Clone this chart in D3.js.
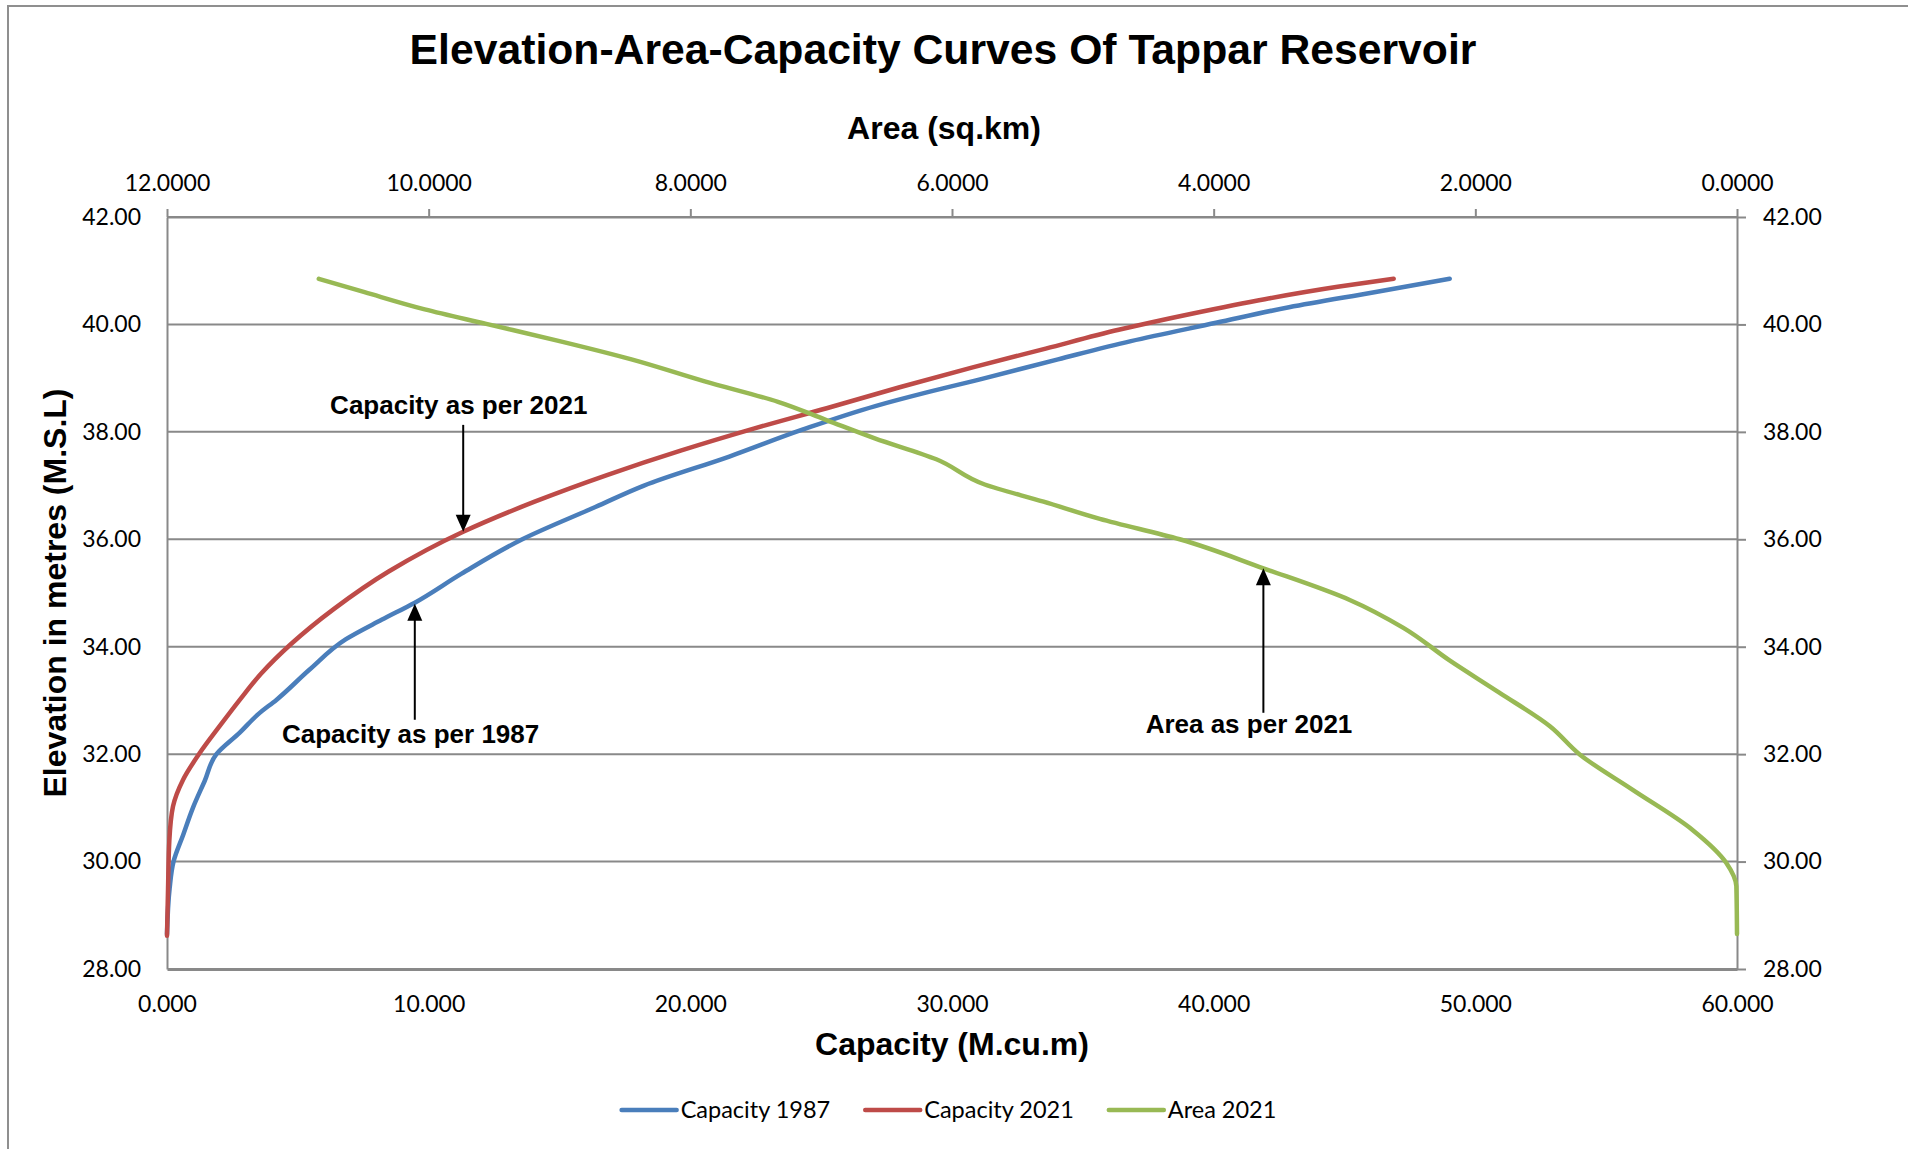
<!DOCTYPE html>
<html>
<head>
<meta charset="utf-8">
<script src="https://cdn.jsdelivr.net/npm/d3@7"></script>
<style>
  body { margin: 0; background: #fff; }
  .tick text, .legend text { font-family: Lato, "Open Sans", sans-serif; font-size: 23px; fill: #000; }
  .legend text { font-size: 23.5px; }
  .bold { font-family: "Liberation Sans", Arial, sans-serif; font-weight: bold; fill: #000; }
</style>
</head>
<body>
<svg id="chart" width="1908" height="1149"></svg>
<script>
// axis ticks
const elevTicks = [28, 30, 32, 34, 36, 38, 40, 42];
const capacityTicks = [0, 10, 20, 30, 40, 50, 60];
const areaTicks = [12, 10, 8, 6, 4, 2, 0];

// [capacity M.cu.m, elevation m]
const capacity1987 = [
  [0, 28.65], [0.1, 29.5], [0.25, 30.0], [0.62, 30.5], [0.99, 31.0], [1.44, 31.5],
  [1.89, 32.0], [2.78, 32.4], [3.5, 32.75], [4.18, 33.01], [5.44, 33.57], [6.84, 34.14],
  [8.2, 34.5], [9.47, 34.82], [11.26, 35.36], [13.58, 36.0], [16.37, 36.6], [18.23, 37.0],
  [21.49, 37.54], [24.28, 38.04], [27.07, 38.48], [29.0, 38.73], [31.26, 39.0], [34.05, 39.35],
  [36.84, 39.69], [40.09, 40.03], [42.88, 40.32], [46.14, 40.6], [49.02, 40.85]
];
const capacity2021 = [
  [0, 28.62], [0.04, 29.5], [0.09, 30.4], [0.23, 31.03], [0.61, 31.52], [1.25, 32.02],
  [2.01, 32.52], [2.78, 33.01], [3.6, 33.5], [4.74, 34.05], [6.37, 34.7], [8.47, 35.4],
  [11.32, 36.14], [14.05, 36.7], [16.84, 37.2], [19.63, 37.65], [22.42, 38.06],
  [25.21, 38.44], [28.0, 38.83], [30.79, 39.2], [33.58, 39.55], [36.37, 39.9],
  [39.16, 40.2], [41.95, 40.47], [44.74, 40.7], [46.88, 40.85]
];
// [area sq.km, elevation m]
const area2021 = [
  [0, 28.65], [0.005, 29.54], [0.08, 29.97], [0.34, 30.59], [0.8, 31.34], [1.2, 31.99],
  [1.43, 32.52], [1.82, 33.15], [2.2, 33.75], [2.55, 34.35], [2.96, 34.87], [3.62, 35.46],
  [4.26, 36.0], [4.87, 36.38], [5.3, 36.7], [5.75, 37.02], [6.12, 37.49], [6.59, 37.88],
  [6.96, 38.22], [7.33, 38.56], [7.89, 38.94], [8.45, 39.35], [9.0, 39.69], [9.56, 40.01],
  [10.03, 40.28], [10.49, 40.6], [10.84, 40.85]
];

const seriesNames = ['Capacity 1987', 'Capacity 2021', 'Area 2021'];
const seriesColors = ['#4a7ebb', '#be4b48', '#98b954'];

// callouts: x on the capacity or area axis, tip / tail / label elevations
const notes = [
  { text: 'Capacity as per 2021', axis: 'cap', x: 11.32, textX: 11.15, tip: 36.14, tail: 38.13, label: 38.33 },
  { text: 'Capacity as per 1987', axis: 'cap', x: 9.47, textX: 9.31, tip: 34.8, tail: 32.64, label: 32.2 },
  { text: 'Area as per 2021', axis: 'area', x: 3.62, textX: 3.73, tip: 35.46, tail: 32.77, label: 32.4 }
];

const W = 1908, H = 1149;
const margin = { left: 167, right: 171, top: 217, bottom: 180 };
const width = W - margin.left - margin.right;
const height = H - margin.top - margin.bottom;
const axisColor = '#898989';

const svg = d3.select('#chart');

// outer chart border (left and top only visible)
svg.append('path')
  .attr('d', `M8,${H} L8,6 L${W},6`)
  .attr('fill', 'none').attr('stroke', '#8f8f8f').attr('stroke-width', 2);

const g = svg.append('g').attr('transform', `translate(${margin.left},${margin.top})`);

const x = d3.scaleLinear().domain([0, 60]).range([0, width]);
const xa = d3.scaleLinear().domain([12, 0]).range([0, width]);
const y = d3.scaleLinear().domain([28, 42]).range([height, 0]);

// gridlines
g.append('g').selectAll('line').data(elevTicks.filter(d => d > 28)).enter()
  .append('line')
  .attr('x1', 0).attr('x2', width)
  .attr('y1', d => y(d)).attr('y2', d => y(d))
  .attr('stroke', axisColor).attr('stroke-width', 2);

function styleAxis(sel, w) {
  sel.selectAll('.domain').attr('stroke', axisColor).attr('stroke-width', w || 2);
  sel.selectAll('.tick line').attr('stroke', axisColor).attr('stroke-width', 2);
  sel.selectAll('.tick text').attr('fill', '#000');
  sel.attr('font-family', null).attr('font-size', null);
}

g.append('g')
  .call(d3.axisLeft(y).tickValues(elevTicks).tickFormat(d3.format('.2f')).tickSize(0).tickPadding(26))
  .call(styleAxis);

g.append('g')
  .attr('transform', `translate(${width},0)`)
  .call(d3.axisRight(y).tickValues(elevTicks).tickFormat(d3.format('.2f')).tickSizeInner(9).tickSizeOuter(0).tickPadding(17))
  .call(styleAxis);

g.append('g')
  .call(d3.axisTop(xa).tickValues(areaTicks).tickFormat(d3.format('.4f')).tickSizeInner(8).tickSizeOuter(0).tickPadding(18))
  .call(styleAxis);

g.append('g')
  .attr('transform', `translate(0,${height})`)
  .call(d3.axisBottom(x).tickValues(capacityTicks).tickFormat(d3.format('.3f')).tickSize(0).tickPadding(27))
  .call(s => styleAxis(s, 3));

// series
const lineCap = d3.line().x(d => x(d[0])).y(d => y(d[1])).curve(d3.curveMonotoneY);
const lineArea = d3.line().x(d => xa(d[0])).y(d => y(d[1])).curve(d3.curveMonotoneY);

[[capacity1987, lineCap], [capacity2021, lineCap], [area2021, lineArea]].forEach((s, i) => {
  g.append('path')
    .datum(s[0])
    .attr('d', s[1])
    .attr('fill', 'none')
    .attr('stroke', seriesColors[i])
    .attr('stroke-width', 4.5)
    .attr('stroke-linecap', 'round')
    .attr('stroke-linejoin', 'round');
});

// callouts with arrows
notes.forEach(n => {
  const sx = n.axis === 'cap' ? x : xa;
  const px = sx(n.x);
  const tipY = y(n.tip);
  const dir = y(n.tail) > tipY ? 1 : -1;
  g.append('line')
    .attr('x1', px).attr('x2', px)
    .attr('y1', y(n.tail)).attr('y2', tipY + dir * 12)
    .attr('stroke', '#000').attr('stroke-width', 2);
  g.append('path')
    .attr('d', `M${px},${tipY} L${px - 7.5},${tipY + dir * 17} L${px + 7.5},${tipY + dir * 17} Z`)
    .attr('fill', '#000');
  g.append('text')
    .attr('class', 'bold')
    .attr('x', sx(n.textX)).attr('y', y(n.label))
    .attr('text-anchor', 'middle')
    .style('font-size', '26px')
    .text(n.text);
});

// titles
svg.append('text').attr('class', 'bold')
  .attr('x', 943).attr('y', 64)
  .attr('text-anchor', 'middle').style('font-size', '42.7px')
  .text('Elevation-Area-Capacity Curves Of Tappar Reservoir');

svg.append('text').attr('class', 'bold')
  .attr('x', 944).attr('y', 139)
  .attr('text-anchor', 'middle').style('font-size', '32px')
  .text('Area (sq.km)');

svg.append('text').attr('class', 'bold')
  .attr('x', margin.left + width / 2).attr('y', 1055)
  .attr('text-anchor', 'middle').style('font-size', '32px')
  .text('Capacity (M.cu.m)');

svg.append('text').attr('class', 'bold')
  .attr('transform', `translate(55,593) rotate(-90)`)
  .attr('text-anchor', 'middle').attr('dominant-baseline', 'central')
  .style('font-size', '32px')
  .text('Elevation in metres (M.S.L)');

// legend
const legend = svg.append('g').attr('class', 'legend');
const items = legend.selectAll('g').data(seriesNames).enter().append('g');
items.append('line')
  .attr('x1', 0).attr('x2', 55).attr('y1', 0).attr('y2', 0)
  .attr('stroke', (d, i) => seriesColors[i]).attr('stroke-width', 4.5)
  .attr('stroke-linecap', 'round');
items.append('text')
  .attr('x', 59).attr('dy', '0.35em')
  .text(d => d);
let cursor = 0;
items.each(function () {
  const t = d3.select(this).select('text').node().getComputedTextLength();
  d3.select(this).attr('transform', `translate(${cursor},0)`);
  cursor += 59 + t + 35;
});
cursor -= 35;
legend.attr('transform', `translate(${949 - cursor / 2},1110)`);
</script>
</body>
</html>
